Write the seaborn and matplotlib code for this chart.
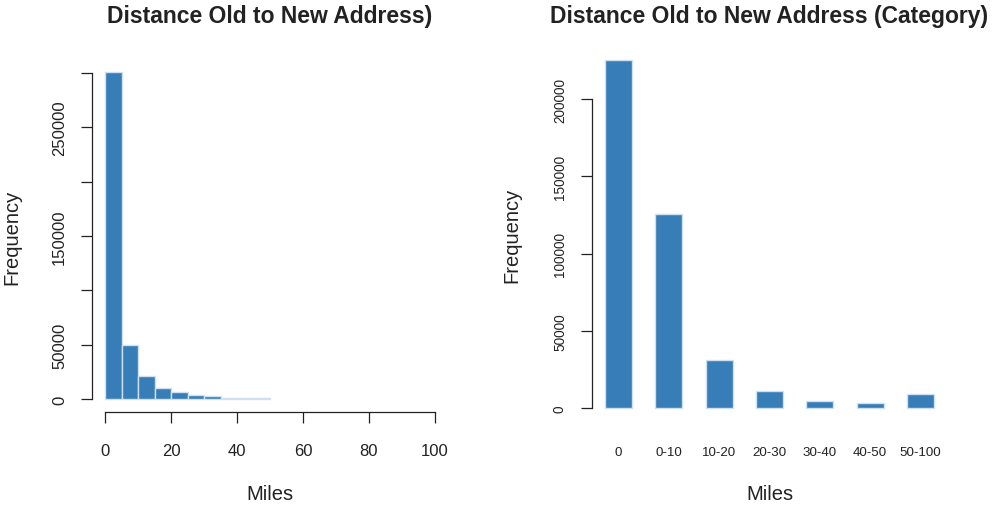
import numpy as np
import pandas as pd
import matplotlib
matplotlib.use("Agg")
import matplotlib.pyplot as plt
import seaborn as sns

# Histogram of distances (5-mile bins, 0-50 miles)
bin_edges = [0, 5, 10, 15, 20, 25, 30, 35, 40, 45, 50]
bin_counts = [300800, 50000, 21500, 10400, 6200, 3700, 2500, 1200, 1000, 800]

# Distance categories
categories = ["0", "0-10", "10-20", "20-30", "30-40", "40-50", "50-100"]
category_counts = [225500, 125500, 31300, 11200, 5000, 3300, 9500]

left_yticks = [0, 50000, 100000, 150000, 200000, 250000, 300000]
left_ylabels = ["0", "50000", "", "150000", "", "250000", ""]
left_xticks = [0, 20, 40, 60, 80, 100]
right_yticks = [0, 50000, 100000, 150000, 200000]

BAR = "#377EB8"
EDGE = "#cfe0f0"
INK = "#222222"

sns.set_theme(style="white")
plt.rcParams["font.family"] = ["Liberation Sans", "DejaVu Sans"]
plt.rcParams["text.color"] = INK
plt.rcParams["axes.labelcolor"] = INK
plt.rcParams["xtick.color"] = INK
plt.rcParams["ytick.color"] = INK

W, H = 992, 506
fig = plt.figure(figsize=(W / 100, H / 100), dpi=100)

LAB = 14.5
TITLE = 16.5


def px_axes(left, top, right, bottom):
    return fig.add_axes([left / W, (H - bottom) / H, (right - left) / W, (bottom - top) / H])


# ---- left: histogram ----
ax1 = px_axes(92, 61, 448, 413)
centers = [(a + b) / 2 for a, b in zip(bin_edges[:-1], bin_edges[1:])]
hist_df = pd.DataFrame({"miles": centers, "count": bin_counts})
sns.histplot(data=hist_df, x="miles", weights="count", bins=bin_edges,
             color=BAR, edgecolor=EDGE, linewidth=1.0, alpha=1.0, ax=ax1)
ax1.set_xlim(-4, 104)
ax1.set_ylim(-12000, 312000)
ax1.set_xticks(left_xticks)
ax1.set_xticklabels([str(t) for t in left_xticks], fontsize=12)
ax1.set_yticks(left_yticks)
ax1.set_yticklabels(left_ylabels, fontsize=12, rotation=90, va="center")
for s in ["top", "right"]:
    ax1.spines[s].set_visible(False)
ax1.spines["left"].set_bounds(0, 300000)
ax1.spines["bottom"].set_bounds(0, 100)
for s in ["left", "bottom"]:
    ax1.spines[s].set_color(INK)
    ax1.spines[s].set_linewidth(0.9)
ax1.tick_params(axis="both", length=8, width=0.9, color=INK, left=True, bottom=True)
ax1.tick_params(axis="y", pad=10)
ax1.tick_params(axis="x", pad=14)
ax1.set_xlabel("Miles", fontsize=LAB)
ax1.set_ylabel("Frequency", fontsize=LAB)
ax1.xaxis.set_label_coords(0.5, (413 - 495) / 352)
ax1.xaxis.label.set_va("center")
ax1.yaxis.set_label_coords((12 - 92) / 356, 0.5)
ax1.yaxis.label.set_va("center")
ax1.set_title("Distance Old to New Address)", fontsize=TITLE, fontweight="bold",
              y=(413 - 17) / 352, va="center", pad=0)

# ---- right: bar chart by category ----
ax2 = px_axes(592, 47, 947, 423)
cat_df = pd.DataFrame({"category": categories, "count": category_counts})
sns.barplot(data=cat_df, x="category", y="count", color=BAR, saturation=1,
            width=0.535, edgecolor=EDGE, linewidth=1.0, ax=ax2)
ax2.set_xlim(-0.53, 6.53)
ax2.set_ylim(-8900, 234300)
ax2.set_yticks(right_yticks)
ax2.set_yticklabels([str(t) for t in right_yticks], fontsize=9.8, rotation=90, va="center")
ax2.set_xticks(range(len(categories)))
ax2.set_xticklabels(categories, fontsize=9.6)
for s in ["top", "right", "bottom"]:
    ax2.spines[s].set_visible(False)
ax2.spines["left"].set_bounds(0, 200000)
ax2.spines["left"].set_color(INK)
ax2.spines["left"].set_linewidth(0.9)
ax2.tick_params(axis="y", length=8, width=0.9, color=INK, pad=10, left=True)
ax2.tick_params(axis="x", length=0, pad=17)
ax2.set_xlabel("Miles", fontsize=LAB)
ax2.set_ylabel("Frequency", fontsize=LAB)
ax2.xaxis.set_label_coords(0.5, (423 - 495) / 376)
ax2.xaxis.label.set_va("center")
ax2.yaxis.set_label_coords((512 - 592) / 355, 0.5)
ax2.yaxis.label.set_va("center")
ax2.set_title("Distance Old to New Address (Category)", fontsize=TITLE, fontweight="bold",
              y=(423 - 17) / 376, va="center", pad=0)

fig.savefig("out.png", dpi=100)
